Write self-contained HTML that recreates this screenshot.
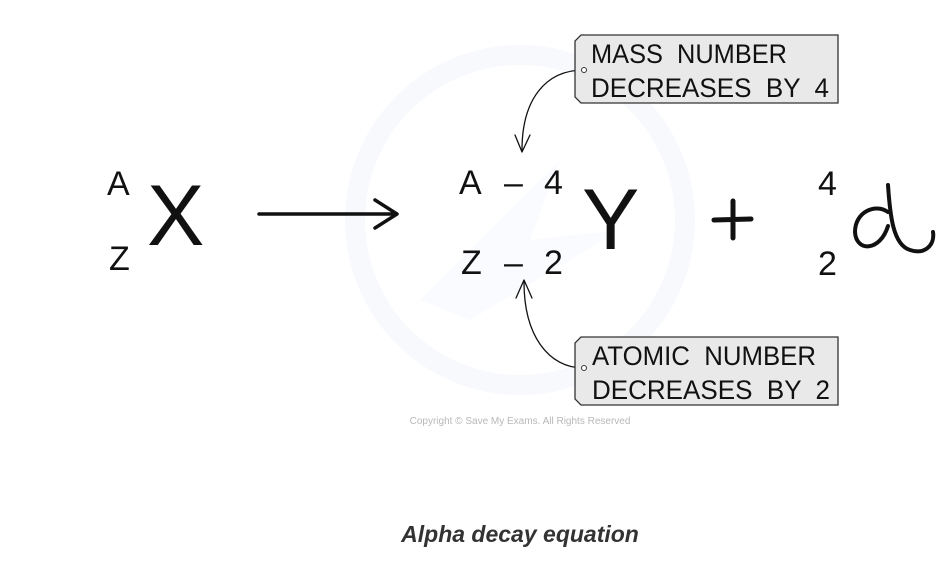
<!DOCTYPE html>
<html><head><style>
body{margin:0;background:#fff;}
svg{display:block;}
text{font-family:"Liberation Sans","DejaVu Sans",sans-serif;white-space:pre;}
</style></head><body>
<svg width="948" height="561" viewBox="0 0 948 561">
<circle cx="520" cy="220" r="165" fill="none" stroke="#f7f9fd" stroke-width="20"/>
<path d="M420 300 L560 160 L530 240 L620 230 L470 320 Z" fill="#f9fbfe"/>
<text x="520" y="424" font-size="10" fill="#b8b8b8" text-anchor="middle">Copyright © Save My Exams. All Rights Reserved</text>

<g fill="#111" font-size="34">
<text x="107" y="195">A</text>
<text x="109" y="270">Z</text>
<text x="459" y="194">A</text><text x="504" y="194">–</text><text x="544" y="194">4</text>
<text x="461" y="274">Z</text><text x="504" y="274">–</text><text x="544" y="274">2</text>
<text x="818" y="195">4</text>
<text x="818" y="275">2</text>
</g>
<text x="147" y="245" font-size="86" fill="#111">X</text>
<text x="582" y="249" font-size="86" fill="#111">Y</text>

<g fill="none" stroke="#111" stroke-linecap="round" stroke-linejoin="round">
<path d="M259 214 L396 214" stroke-width="3.5"/>
<path d="M375 200 L397 214 L375 228" stroke-width="3.5"/>
<path d="M714 220 L751 219 M733 201 L733 238" stroke-width="5"/>
<path d="M888 185 C890 215 893 245 910 250 C925 255 935 245 933 232" stroke-width="4"/>
<path d="M888 212 C875 203 855 212 855 232 C856 252 880 252 888 226" stroke-width="4"/>
<path d="M584 70 C545 70 522 100 522 150" stroke-width="1.3"/>
<path d="M515 135 L522 152 L530 135" stroke-width="1.3"/>
<path d="M584 368 C548 368 524 335 524 282" stroke-width="1.3"/>
<path d="M516 298 L524 280 L532 298" stroke-width="1.3"/>
</g>
<g fill="#e9e9e9" stroke="#333" stroke-width="1.3">
<path d="M581 35 L838 35 L838 103 L581 103 L575 97 L575 41 Z"/>
<path d="M581 337 L838 337 L838 405 L581 405 L575 399 L575 343 Z"/>
</g>
<g fill="#fff" stroke="#333" stroke-width="1"><circle cx="584" cy="70" r="2.5"/><circle cx="584" cy="368" r="2.5"/></g>
<g fill="#111" font-size="27">
<text x="591" y="63" textLength="196" lengthAdjust="spacingAndGlyphs">MASS  NUMBER</text>
<text x="591" y="97" textLength="238" lengthAdjust="spacingAndGlyphs">DECREASES  BY  4</text>
<text x="592" y="365" textLength="224" lengthAdjust="spacingAndGlyphs">ATOMIC  NUMBER</text>
<text x="592" y="399" textLength="238" lengthAdjust="spacingAndGlyphs">DECREASES  BY  2</text>
</g>
<text x="520" y="542" font-size="23" font-weight="bold" font-style="italic" fill="#333" text-anchor="middle">Alpha decay equation</text>
</svg>
</body></html>
